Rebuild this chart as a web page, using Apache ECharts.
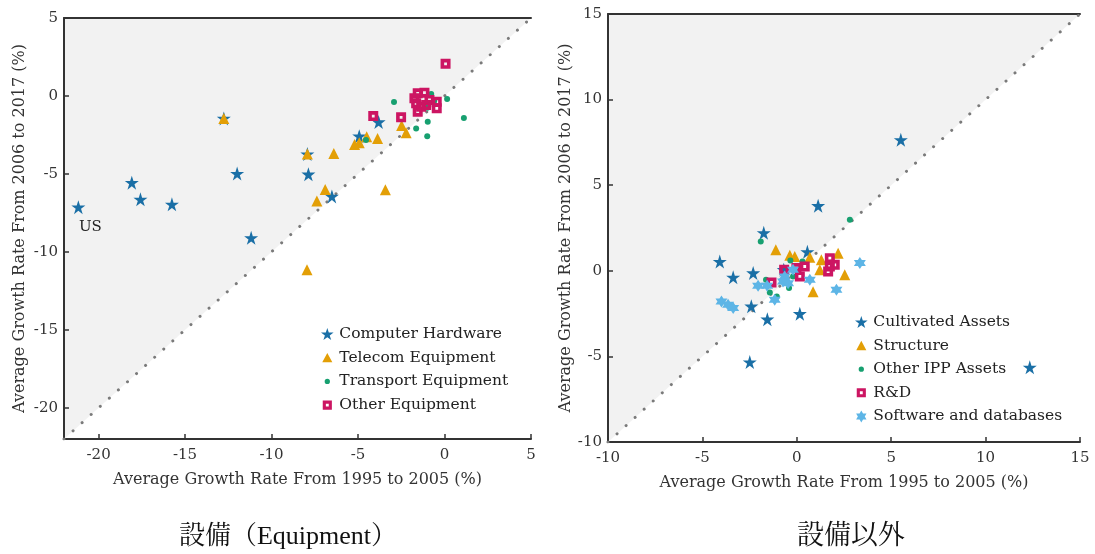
<!DOCTYPE html>
<html>
<head>
<meta charset="utf-8">
<script src="https://cdn.jsdelivr.net/npm/echarts@6/dist/echarts.min.js"></script>
<style>
html,body{margin:0;padding:0;background:#fff;}
#c{width:1095px;height:554px;}
</style>
</head>
<body>
<div id="c"></div>
<script>
// ---------- DATA ----------
// Left panel: Equipment  [growth 1995-2005, growth 2006-2017]
const leftRange = [-22, 5];
const leftTicks = [-20, -15, -10, -5, 0, 5];
const computerHardware = [[-21.17,-7.13],[-18.08,-5.56],[-17.58,-6.63],[-15.76,-6.95],[-11.99,-4.98],[-11.18,-9.10],[-12.76,-1.44],[-7.93,-3.73],[-7.87,-5.02],[-6.51,-6.44],[-4.93,-2.58],[-3.81,-1.67]];
const telecomEquipment = [[-12.76,-1.44],[-7.93,-3.73],[-6.40,-3.69],[-5.20,-3.11],[-4.93,-3.00],[-4.50,-2.62],[-3.87,-2.73],[-2.48,-1.89],[-2.22,-2.36],[-6.90,-6.00],[-7.38,-6.74],[-3.42,-6.01],[-7.95,-11.14]];
const transportEquipment = [[-2.92,-0.39],[-1.64,-2.08],[-0.97,-1.65],[-1.00,-2.58],[0.15,-0.19],[1.12,-1.42],[-4.54,-2.83],[-0.77,0.13],[-1.00,-0.75],[-0.60,-0.30]];
const otherEquipment = [[0.06,2.06],[-4.12,-1.29],[-2.51,-1.37],[-1.55,0.17],[-1.16,0.21],[-1.64,-0.47],[-1.55,-1.01],[-0.87,-0.26],[-0.45,-0.37],[-0.45,-0.79],[-1.35,-0.69],[-1.74,-0.15],[-1.06,-0.58]];
const usLabel = 'US'; // label of first Computer Hardware point

// Right panel: non-equipment
const rightRange = [-10, 15];
const rightTicks = [-10, -5, 0, 5, 10, 15];
const cultivatedAssets = [[5.51,7.65],[1.13,3.80],[-1.75,2.22],[-4.08,0.54],[-3.37,-0.38],[-2.31,-0.13],[0.56,1.11],[-2.41,-2.07],[-1.56,-2.83],[0.16,-2.51],[-2.49,-5.33],[12.34,-5.64],[-0.69,0.06]];
const structure = [[-1.11,1.23],[-0.37,0.91],[-0.11,0.84],[0.69,0.79],[1.30,0.64],[2.19,1.02],[2.54,-0.23],[0.86,-1.23],[1.22,0.06]];
const otherIPP = [[2.81,2.98],[-1.91,1.71],[-0.34,0.60],[0.30,0.54],[-1.63,-0.52],[-1.43,-1.27],[-1.06,-1.50],[-0.41,-1.00],[-0.20,-0.33]];
const rAndD = [[-1.34,-0.68],[-0.67,0.06],[-0.02,0.16],[0.42,0.25],[0.16,-0.33],[1.75,0.74],[1.75,0.25],[2.01,0.35],[1.66,-0.04]];
const software = [[3.34,0.45],[2.10,-1.11],[0.69,-0.53],[-2.05,-0.88],[-1.57,-0.88],[-1.17,-1.69],[-3.99,-1.79],[-3.64,-1.99],[-3.37,-2.18],[-0.64,-0.33],[-0.73,-0.63],[-0.20,0.06],[-0.46,-0.72]];

const xName = 'Average Growth Rate From 1995 to 2005 (%)';
const yName = 'Average Growth Rate From 2006 to 2017 (%)';
const captionLeft = '設備（Equipment）';
const captionRight = '設備以外';

// ---------- STYLE ----------
const FONT = "'DejaVu Serif', serif";
const CJK = "'Liberation Serif', 'Noto Serif CJK JP', 'Noto Sans CJK JP', serif";
const C_BLUE = '#1a6fa6', C_ORANGE = '#e39f06', C_GREEN = '#17a070', C_MAG = '#cc1562', C_LBLUE = '#5db5e6';
const AX = '#333';

const STAR = 'path://M100,0L122.45,69.1L195.1,69.1L136.3,111.8L158.8,180.9L100,138.2L41.2,180.9L63.7,111.8L4.9,69.1L77.55,69.1Z';
const HEXA = 'path://M100,0L128.87,50L186.6,50L157.7,100L186.6,150L128.87,150L100,200L71.13,150L13.4,150L42.3,100L13.4,50L71.13,50Z';
const SQH = 'path://M0,0L100,0L100,100L0,100Z M36,36L36,64L64,64L64,36Z';
const SQH_LEG = 'path://M0,0L0.01,0Z M12,12L88,12L88,88L12,88Z M38,38L38,62L62,62L62,38Z M100,100L99.99,100Z';
const CIRC_LEG = 'path://M0,0L0.01,0Z M28,50A22,22 0 1 1 72,50A22,22 0 1 1 28,50Z M100,100L99.99,100Z';
const TRI_LEG = 'path://M0,0L0.01,0Z M50,10L92,88L8,88Z M100,100L99.99,100Z';

function bottomAxis(gi, range, ticks, tickVals) {
  return {
    type: 'value', gridIndex: gi, position: 'bottom', min: range[0], max: range[1],
    axisLine: {show: true, onZero: false, lineStyle: {color: AX, width: 2}},
    axisTick: {show: true, inside: true, length: 5, customValues: tickVals, lineStyle: {color: AX, width: 1.5}},
    axisLabel: {customValues: ticks, margin: 9, color: '#333', fontFamily: FONT, fontSize: 15},
    splitLine: {show: false},
    name: xName, nameLocation: 'middle', nameGap: 33,
    nameTextStyle: {color: '#333', fontFamily: FONT, fontSize: 16}
  };
}
function topAxis(gi, range) {
  return {
    type: 'value', gridIndex: gi, position: 'top', min: range[0], max: range[1],
    axisLine: {show: true, onZero: false, lineStyle: {color: AX, width: 2}},
    axisTick: {show: false}, axisLabel: {show: false}, splitLine: {show: false}
  };
}
function leftAxis(gi, range, ticks, tickVals, gap) {
  return {
    type: 'value', gridIndex: gi, min: range[0], max: range[1],
    axisLine: {show: true, onZero: false, lineStyle: {color: AX, width: 2}},
    axisTick: {show: true, inside: true, length: 5, customValues: tickVals, lineStyle: {color: AX, width: 1.5}},
    axisLabel: {customValues: ticks, margin: 6, color: '#333', fontFamily: FONT, fontSize: 15},
    splitLine: {show: false},
    name: yName, nameLocation: 'middle', nameGap: gap, nameRotate: 90,
    nameTextStyle: {color: '#333', fontFamily: FONT, fontSize: 16}
  };
}
function shade(xi, yi, range) {
  return {
    type: 'custom', xAxisIndex: xi, yAxisIndex: yi, silent: true, z: 0,
    data: [[range[0], range[1]]],
    renderItem: function (params, api) {
      const p1 = api.coord([range[0], range[0]]);
      const p2 = api.coord([range[1], range[1]]);
      const p3 = api.coord([range[0], range[1]]);
      return {type: 'polygon', shape: {points: [p1, p2, p3]}, style: {fill: '#f2f2f2'}};
    }
  };
}
function diag(xi, yi, range) {
  return {
    type: 'line', xAxisIndex: xi, yAxisIndex: yi, silent: true, z: 1,
    data: [[range[0], range[0]], [range[1], range[1]]],
    showSymbol: false, symbol: 'none',
    lineStyle: {color: '#7a7a7a', width: 3, type: [0.01, 12.2], cap: 'round'}
  };
}
function sc(name, data, xi, yi, symbol, size, color, z) {
  return {type: 'scatter', name, data, xAxisIndex: xi, yAxisIndex: yi, symbol, symbolSize: size,
          itemStyle: {color, opacity: 1}, z: z, emphasis: {disabled: true}};
}

const hwData = computerHardware.map((p, i) => i === 0 ? {
  value: p,
  label: {show: true, formatter: usLabel, position: 'bottom', offset: [12, 0], color: '#222', fontFamily: FONT, fontSize: 15}
} : p);

const chart = echarts.init(document.getElementById('c'), null, {renderer: 'canvas'});
chart.setOption({
  backgroundColor: '#ffffff',
  animation: false,
  grid: [
    {left: 64, top: 18, width: 467, height: 421},
    {left: 608, top: 14, width: 472, height: 428}
  ],
  xAxis: [
    bottomAxis(0, leftRange, leftTicks, leftTicks),
    topAxis(0, leftRange),
    bottomAxis(1, rightRange, rightTicks, rightTicks),
    topAxis(1, rightRange)
  ],
  yAxis: [
    leftAxis(0, leftRange, leftTicks, leftTicks, 36),
    leftAxis(1, rightRange, rightTicks, rightTicks, 34)
  ],
  legend: [
    {
      orient: 'vertical', left: 316, top: 321, itemWidth: 14, itemHeight: 12, itemGap: 7.7,
      textStyle: {color: '#222', fontFamily: FONT, fontSize: 15.5, padding: [0, 0, 0, 0]},
      selectedMode: false,
      data: [
        {name: 'Computer Hardware', icon: STAR},
        {name: 'Telecom Equipment', icon: TRI_LEG},
        {name: 'Transport Equipment', icon: CIRC_LEG},
        {name: 'Other Equipment', icon: SQH_LEG}
      ]
    },
    {
      orient: 'vertical', left: 850, top: 309, itemWidth: 14, itemHeight: 12, itemGap: 7.6,
      textStyle: {color: '#222', fontFamily: FONT, fontSize: 15.5, padding: [0, 0, 0, 0]},
      selectedMode: false,
      data: [
        {name: 'Cultivated Assets', icon: STAR},
        {name: 'Structure', icon: TRI_LEG},
        {name: 'Other IPP Assets', icon: CIRC_LEG},
        {name: 'R&D', icon: SQH_LEG},
        {name: 'Software and databases', icon: HEXA}
      ]
    }
  ],
  graphic: [
    {type: 'text', x: 288, y: 537, style: {text: captionLeft, fontSize: 26, fontFamily: CJK, fill: '#111', align: 'center', verticalAlign: 'middle', textAlign: 'center', textVerticalAlign: 'middle'}},
    {type: 'text', x: 851, y: 537, style: {text: captionRight, fontSize: 27, fontFamily: CJK, fill: '#111', align: 'center', verticalAlign: 'middle', textAlign: 'center', textVerticalAlign: 'middle'}}
  ],
  series: [
    shade(0, 0, leftRange),
    diag(0, 0, leftRange),
    sc('Computer Hardware', hwData, 0, 0, STAR, 14, C_BLUE, 3),
    sc('Telecom Equipment', telecomEquipment, 0, 0, 'triangle', 11, C_ORANGE, 4),
    sc('Transport Equipment', transportEquipment, 0, 0, 'circle', 6, C_GREEN, 5),
    sc('Other Equipment', otherEquipment, 0, 0, SQH, 10, C_MAG, 6),
    shade(2, 1, rightRange),
    diag(2, 1, rightRange),
    sc('Cultivated Assets', cultivatedAssets, 2, 1, STAR, 14, C_BLUE, 3),
    sc('Structure', structure, 2, 1, 'triangle', 11, C_ORANGE, 4),
    sc('Other IPP Assets', otherIPP, 2, 1, 'circle', 6, C_GREEN, 5),
    sc('R&D', rAndD, 2, 1, SQH, 10, C_MAG, 6),
    sc('Software and databases', software, 2, 1, HEXA, 12, C_LBLUE, 7)
  ]
});
</script>
</body>
</html>
